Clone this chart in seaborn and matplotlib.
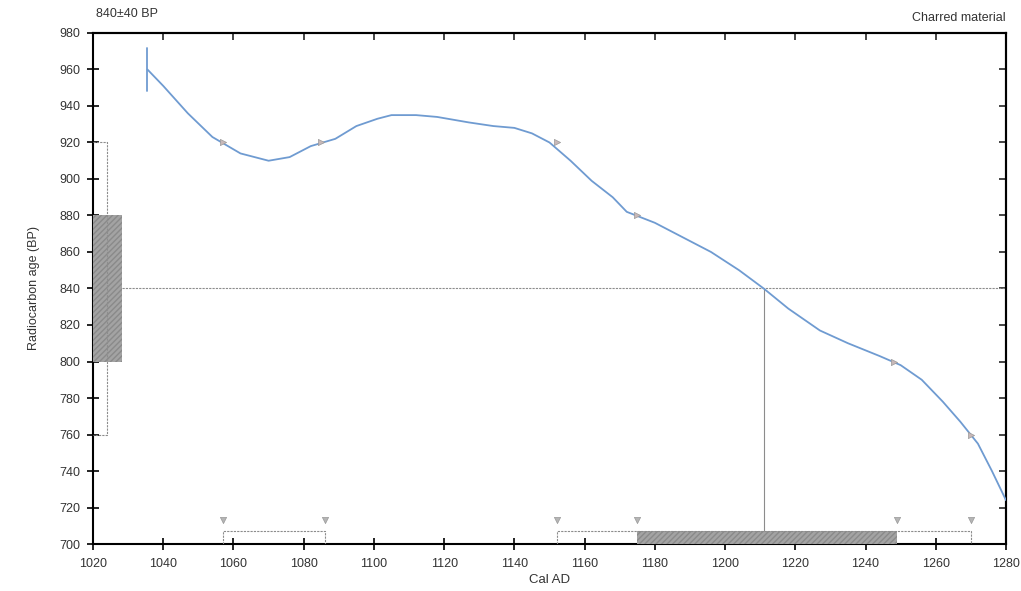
import numpy as np
import matplotlib
matplotlib.use("Agg")
import matplotlib.pyplot as plt
import seaborn as sns
import pandas as pd

# calibration curve
curve_years = [1035.5, 1040, 1047, 1054, 1062, 1070, 1076, 1082, 1089, 1095, 1101, 1105,
               1112, 1118, 1127, 1134, 1140, 1145, 1150, 1156, 1162, 1168, 1172, 1180,
               1188, 1196, 1204, 1211, 1218, 1227, 1235, 1244, 1250, 1256, 1262, 1267,
               1272, 1276, 1280]
curve_bp = [960, 951, 936, 923, 914, 910, 912, 918, 922, 929, 933, 935,
            935, 934, 931, 929, 928, 925, 920, 910, 899, 890, 882, 876,
            868, 860, 850, 840, 829, 817, 810, 803, 798, 790, 778, 767,
            755, 740, 724]

sample_bp = 840
sample_err = 40
one_sigma_ages = [1175, 1249]
two_sigma_ages = [(1057, 1086), (1152, 1270)]
intercept_year = 1211
cross_points_x = [1057, 1085, 1152, 1175, 1248, 1270]
cross_points_y = [920, 920, 920, 880, 800, 760]
x_ticks = np.arange(1020, 1281, 20)
y_ticks = np.arange(700, 981, 20)

sns.set_style("ticks")
plt.rcParams['font.family'] = ['Liberation Sans', 'DejaVu Sans']

fig = plt.figure(figsize=(10.21, 5.91), dpi=100)
ax = fig.add_axes([0.0911, 0.0795, 0.8942, 0.8647])

df = pd.DataFrame({"year": curve_years, "bp": curve_bp})
sns.lineplot(data=df, x="year", y="bp", ax=ax, color="#6f9bd1", linewidth=1.3, zorder=4)
ax.plot([curve_years[0], curve_years[0]], [948, 972], color="#6f9bd1", linewidth=1.3, zorder=4)

grey = "#8c8c8c"
# radiocarbon age box on the y axis
ax.fill_between([1020, 1028.3], sample_bp - sample_err, sample_bp + sample_err,
                facecolor="#a3a3a3", edgecolor="#8a8a8a", hatch="//////", linewidth=0, zorder=3)
ax.plot([1020, 1024, 1024, 1020], [920, 920, 760, 760], color=grey, linewidth=0.8,
        linestyle=(0, (2, 1)), zorder=3)
ax.plot([1028.3, 1280], [sample_bp, sample_bp], color=grey, linewidth=0.8,
        linestyle=(0, (2, 1)), zorder=2)
ax.plot([intercept_year, intercept_year], [700, sample_bp], color=grey, linewidth=0.8, zorder=2)

# calibrated ranges on the x axis
ax.fill_between(one_sigma_ages, 700, 707, facecolor="#a3a3a3", edgecolor="#8a8a8a",
                hatch="//////", linewidth=0, zorder=3)
for a, b in two_sigma_ages:
    ax.plot([a, a, b, b], [700, 707, 707, 700], color=grey, linewidth=0.8,
            linestyle=(0, (2, 1)), zorder=3)
marks_x = [two_sigma_ages[0][0], two_sigma_ages[0][1], two_sigma_ages[1][0],
           one_sigma_ages[0], one_sigma_ages[1], two_sigma_ages[1][1]]
ax.scatter(marks_x, [713] * len(marks_x), marker="v", s=20, color="#b5b5b5",
           edgecolor="#999999", linewidth=0.5, zorder=5)
ax.scatter(cross_points_x, cross_points_y, marker=">", s=20, color="#c8b8b8",
           edgecolor="#9a9a9a", linewidth=0.5, zorder=5)

ax.set_xlim(1020, 1280)
ax.set_ylim(700, 980)
ax.set_xticks(x_ticks)
ax.set_yticks(y_ticks)
ax.tick_params(direction="inout", length=8, width=1.2, labelsize=9,
               colors="black", labelcolor="#333333")
ax.tick_params(axis="x", pad=6)
ax.tick_params(axis="y", pad=5)
top = ax.secondary_xaxis("top")
top.set_xticks(x_ticks)
top.tick_params(direction="in", length=5, width=1.2, labeltop=False)
right = ax.secondary_yaxis("right")
right.set_yticks(y_ticks)
right.tick_params(direction="in", length=5, width=1.2, labelright=False)
for a in (ax, top, right):
    for s in a.spines.values():
        s.set_linewidth(1.5)
        s.set_color("black")

ax.set_xlabel("Cal AD", fontsize=9.5, color="#333333", labelpad=3)
ax.set_ylabel("Radiocarbon age (BP)", fontsize=9, color="#333333", labelpad=14)
ax.text(0.003, 1.025, "840±40 BP", transform=ax.transAxes, fontsize=9,
        color="#333333", ha="left", va="bottom")
ax.text(1.0, 1.018, "Charred material", transform=ax.transAxes, fontsize=9,
        color="#333333", ha="right", va="bottom")

fig.savefig("out.png", dpi=100)
